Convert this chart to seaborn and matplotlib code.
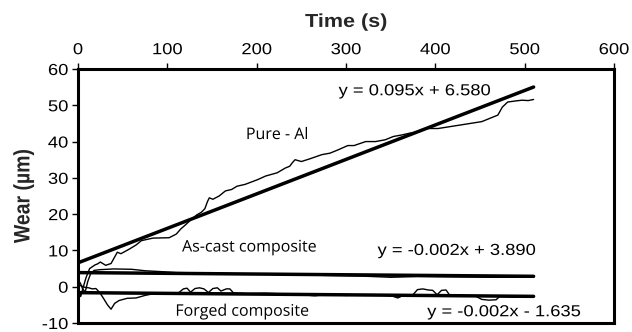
import numpy as np
import pandas as pd
import matplotlib
matplotlib.use("Agg")
import matplotlib.pyplot as plt
import seaborn as sns
from matplotlib.patheffects import AbstractPathEffect
from matplotlib.transforms import Affine2D

# ---------------- data ----------------
pure_t = [0, 3, 6, 9, 13, 19, 22, 25, 31, 37, 44, 48, 57, 65, 71, 84, 102, 110, 115, 121,
          127, 133, 138, 142, 145, 147, 151, 158, 165, 172, 178, 187, 201, 210, 223, 232,
          237, 240, 243, 250, 259, 273, 282, 291, 302, 309, 322, 333, 344, 353, 362, 371,
          380, 389, 403, 416, 434, 452, 465, 470, 475, 481, 490, 497, 504, 510]
pure_v = [-1.0, -2.7, 0.0, 2.5, 5.0, 6.0, 6.3, 6.8, 5.9, 6.4, 9.5, 9.1, 10.3, 11.5, 12.7,
          13.4, 13.5, 14.5, 15.9, 17.2, 18.6, 19.8, 20.5, 21.5, 23.5, 24.5, 24.1, 25.0, 26.4,
          26.8, 27.7, 28.2, 29.5, 30.5, 31.4, 32.7, 33.2, 34.2, 35.0, 34.5, 35.2, 36.4, 36.8,
          37.7, 38.9, 38.9, 40.0, 40.0, 40.5, 41.4, 41.8, 42.3, 42.7, 43.6, 43.6, 44.1, 44.8,
          45.5, 46.8, 47.3, 49.5, 50.9, 51.2, 51.4, 51.3, 51.6]

cast_t = [0, 3, 5, 8, 11, 14, 18, 25, 40, 60, 75, 90, 110, 140, 170, 200, 240, 280, 320,
          350, 380, 420, 460, 510]
cast_v = [2.0, 0.8, -0.5, -1.5, 1.5, 3.5, 4.5, 4.7, 4.9, 4.8, 4.4, 4.2, 3.9, 3.8, 3.6, 3.5,
          3.3, 3.1, 2.9, 2.6, 2.8, 2.7, 2.6, 2.6]

forged_t = [0, 4, 8, 12, 16, 20, 24, 28, 33, 37, 41, 46, 55, 65, 75, 85, 100, 112, 118, 122,
            126, 131, 136, 141, 146, 151, 156, 160, 166, 170, 174, 190, 210, 230, 250, 265,
            280, 300, 320, 340, 352, 358, 364, 375, 380, 386, 392, 397, 402, 407, 412, 416,
            430, 445, 452, 460, 468, 472, 490, 510]
forged_v = [0.5, 0.2, -0.2, -0.3, -0.6, -0.5, -1.5, -3.0, -5.0, -6.2, -4.6, -3.8, -3.2, -3.1,
            -2.4, -1.9, -1.7, -1.8, -0.6, -0.4, -1.5, -0.5, -0.3, -0.6, -1.6, -0.5, -0.3,
            -1.2, -0.6, -0.6, -1.7, -1.9, -1.8, -2.0, -2.2, -2.5, -2.1, -2.4, -2.2, -2.3,
            -2.6, -3.1, -2.4, -2.2, -0.8, -0.6, -0.9, -1.0, -2.2, -1.0, -0.9, -2.3, -2.4,
            -2.6, -3.5, -3.7, -3.6, -2.7, -2.9, -2.8]

fit_names = ["Pure - Al", "As-cast composite", "Forged composite"]
fit_slopes = [0.095, -0.002, -0.002]
fit_intercepts = [6.580, 3.890, -1.635]
fit_labels = ["y = 0.095x + 6.580", "y = -0.002x + 3.890", "y = -0.002x - 1.635"]
fit_range = [0, 510]

x_ticks = [0, 100, 200, 300, 400, 500, 600]
y_ticks = [-10, 0, 10, 20, 30, 40, 50, 60]

# ---------------- style ----------------
sns.set_theme(style="white")
plt.rcParams['font.family'] = ['Liberation Sans', 'DejaVu Sans']


class Stretch(AbstractPathEffect):
    """Draw text stretched along its own x/y axes (source chart was stretched)."""

    def __init__(self, sx=1.0, sy=1.0, anchor="center"):
        super().__init__((0, 0))
        self.sx, self.sy, self.anchor = sx, sy, anchor

    def draw_path(self, renderer, gc, tpath, affine, rgbFace=None):
        if len(tpath.vertices) == 0:
            return
        ext = tpath.get_extents()
        if self.anchor == "left":
            ax0 = ext.x0
        elif self.anchor == "right":
            ax0 = ext.x1
        else:
            ax0 = (ext.x0 + ext.x1) / 2
        cy = (ext.y0 + ext.y1) / 2
        t = Affine2D().translate(-ax0, -cy).scale(self.sx, self.sy).translate(ax0, cy)
        renderer.draw_path(gc, tpath, t + affine, rgbFace)


SX = 1.15

fig = plt.figure(figsize=(6.32, 3.32), dpi=100)
W, H = 632, 332
L, R, T, B = 78, 614, 69, 323
ax = fig.add_axes([L / W, (H - B) / H, (R - L) / W, (B - T) / H])

# curves
df = pd.concat([
    pd.DataFrame({"t": pure_t, "w": pure_v, "s": "pure"}),
    pd.DataFrame({"t": cast_t, "w": cast_v, "s": "cast"}),
    pd.DataFrame({"t": forged_t, "w": forged_v, "s": "forged"}),
])
sns.lineplot(data=df, x="t", y="w", units="s", estimator=None, color="black",
             linewidth=1.0, ax=ax, sort=False)

# fit lines
xf = np.array(fit_range, dtype=float)
for m, c in zip(fit_slopes, fit_intercepts):
    sns.lineplot(x=xf, y=m * xf + c, color="black", linewidth=2.5, ax=ax)

ax.set_xlim(0, 600)
ax.set_ylim(-10, 60)
ax.set_xticks(x_ticks)
ax.set_yticks(y_ticks)
ax.set_xticklabels([str(v) for v in x_ticks])
ax.set_yticklabels([str(v) for v in y_ticks])
ax.xaxis.tick_top()
ax.xaxis.set_label_position("top")
ax.tick_params(axis="x", which="both", top=True, bottom=False, direction="out",
               length=4, width=1, pad=4.5, labelsize=11.5, colors="black")
ax.tick_params(axis="y", which="both", left=True, direction="out",
               length=4, width=1, pad=3, labelsize=11.5, colors="black")
for sp in ax.spines.values():
    sp.set_visible(True)
    sp.set_color("black")
    sp.set_linewidth(2.2)
ax.grid(False)

ax.set_xlabel("Time (s)", fontsize=13.5, fontweight="bold", labelpad=11)
ax.set_ylabel("Wear (µm)", fontsize=14, fontweight="bold", labelpad=9)
ax.xaxis.label.set_path_effects([Stretch(SX, 1.0)])
ax.yaxis.label.set_path_effects([Stretch(1.0, SX)])
for lab in ax.get_xticklabels():
    lab.set_path_effects([Stretch(SX, 1.0)])
for lab in ax.get_yticklabels():
    lab.set_path_effects([Stretch(SX, 1.0, anchor="right")])

# annotations
eq_pos = [(377, 54.0), (424, 10.0), (477, -6.9)]
name_pos = [(223, 41.8), (192, 10.8), (184, -6.9)]
for (x, y), s in zip(eq_pos, fit_labels):
    ax.text(x, y, s, fontsize=11.5, ha="center", va="center", color="black",
            path_effects=[Stretch(SX, 1.0)])
for (x, y), s in zip(name_pos, fit_names):
    ax.text(x, y, s, fontsize=11.5, ha="center", va="center", color="black",
            family=["Open Sans", "DejaVu Sans"], path_effects=[Stretch(1.0, 1.0)])

fig.savefig("out.png", dpi=100)
